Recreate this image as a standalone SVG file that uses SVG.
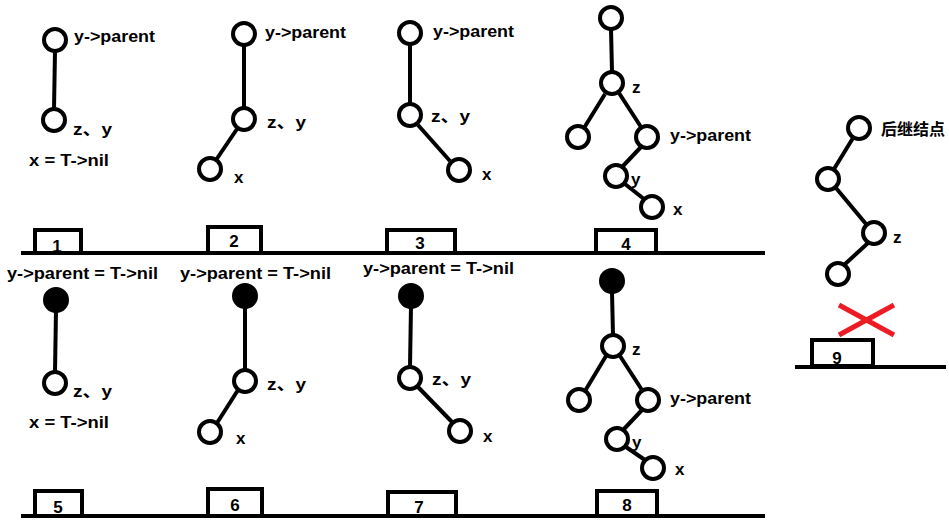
<svg xmlns="http://www.w3.org/2000/svg" width="949" height="529" viewBox="0 0 949 529">
<style>
.n{fill:#fff;stroke:#000;stroke-width:4}
.f{fill:#000;stroke:#000;stroke-width:2}
.e{stroke:#000;stroke-width:4;fill:none}
.b{fill:#fff;stroke:#000;stroke-width:4}
.t{font-family:"Liberation Sans","Noto Sans CJK SC",sans-serif;font-weight:bold;font-size:17px;fill:#000}
.c{font-family:"Noto Sans CJK SC",sans-serif;font-weight:bold;font-size:16px;fill:#000}
.d{font-family:"Liberation Sans",sans-serif;font-weight:bold;font-size:17px;fill:#000;text-anchor:middle}
</style>
<rect width="949" height="529" fill="#fff"/>
<g id="connectors">
<line class="e" x1="55" y1="51" x2="54" y2="109"/>
<line class="e" x1="244" y1="45" x2="244" y2="108"/>
<line class="e" x1="237" y1="129" x2="216" y2="160"/>
<line class="e" x1="410" y1="45" x2="410" y2="104"/>
<line class="e" x1="418" y1="125" x2="450" y2="161"/>
<line class="e" x1="611" y1="29" x2="612" y2="72"/>
<line class="e" x1="605" y1="94" x2="584" y2="128"/>
<line class="e" x1="619" y1="93" x2="641" y2="127"/>
<line class="e" x1="641" y1="147" x2="623" y2="166"/>
<line class="e" x1="625" y1="184" x2="644" y2="199"/>
<line class="e" x1="853" y1="138" x2="834" y2="169"/>
<line class="e" x1="836" y1="188" x2="866" y2="224"/>
<line class="e" x1="868" y1="243" x2="844" y2="265"/>
<line class="e" x1="56" y1="310" x2="55" y2="372"/>
<line class="e" x1="245" y1="306" x2="245" y2="370"/>
<line class="e" x1="238" y1="390" x2="217" y2="423"/>
<line class="e" x1="411" y1="306" x2="410" y2="367"/>
<line class="e" x1="418" y1="387" x2="452" y2="422"/>
<line class="e" x1="612" y1="292" x2="613" y2="335"/>
<line class="e" x1="606" y1="356" x2="585" y2="391"/>
<line class="e" x1="620" y1="356" x2="642" y2="390"/>
<line class="e" x1="642" y1="410" x2="624" y2="429"/>
<line class="e" x1="626" y1="447" x2="645" y2="460"/>
</g>
<g id="n1a"><circle class="n" cx="55" cy="40" r="11"/><text class="t" x="74" y="42" textLength="81" lengthAdjust="spacingAndGlyphs">y-&gt;parent</text></g>
<g id="n1b"><circle class="n" cx="54" cy="120" r="11"/><text class="t" x="73" y="135" textLength="39" lengthAdjust="spacingAndGlyphs">z、y</text><text class="t" x="29" y="166" textLength="80" lengthAdjust="spacingAndGlyphs">x = T-&gt;nil</text></g>
<g id="n2a"><circle class="n" cx="244" cy="34" r="11"/><text class="t" x="265" y="38" textLength="81" lengthAdjust="spacingAndGlyphs">y-&gt;parent</text></g>
<g id="n2b"><circle class="n" cx="244" cy="119" r="11"/><text class="t" x="267" y="128" textLength="39" lengthAdjust="spacingAndGlyphs">z、y</text></g>
<g id="n2c"><circle class="n" cx="210" cy="169" r="11"/><text class="t" x="234" y="183">x</text></g>
<g id="n3a"><circle class="n" cx="410" cy="33" r="11"/><text class="t" x="433" y="37" textLength="81" lengthAdjust="spacingAndGlyphs">y-&gt;parent</text></g>
<g id="n3b"><circle class="n" cx="410" cy="115" r="11"/><text class="t" x="431" y="122" textLength="39" lengthAdjust="spacingAndGlyphs">z、y</text></g>
<g id="n3c"><circle class="n" cx="459" cy="170" r="11"/><text class="t" x="482" y="180">x</text></g>
<g id="n4a"><circle class="n" cx="611" cy="18" r="11"/></g>
<g id="n4z"><circle class="n" cx="612" cy="83" r="11"/><text class="t" x="632" y="93">z</text></g>
<g id="n4l"><circle class="n" cx="578" cy="137" r="11"/></g>
<g id="n4p"><circle class="n" cx="647" cy="137" r="11"/><text class="t" x="670" y="141" textLength="81" lengthAdjust="spacingAndGlyphs">y-&gt;parent</text></g>
<g id="n4y"><circle class="n" cx="616" cy="176" r="11"/><text class="t" x="631" y="185">y</text></g>
<g id="n4x"><circle class="n" cx="652" cy="207" r="11"/><text class="t" x="673" y="215">x</text></g>
<g id="n9a"><circle class="n" cx="859" cy="128" r="11"/><text class="c" x="881" y="135" textLength="64" lengthAdjust="spacingAndGlyphs">后继结点</text></g>
<g id="n9b"><circle class="n" cx="828" cy="179" r="11"/></g>
<g id="n9z"><circle class="n" cx="874" cy="233" r="11"/><text class="t" x="893" y="243">z</text></g>
<g id="n9c"><circle class="n" cx="838" cy="274" r="11"/></g>
<g id="cross"><line x1="839" y1="305" x2="894" y2="335" stroke="#ED1C24" stroke-width="5"/><line x1="839" y1="335" x2="894" y2="305" stroke="#ED1C24" stroke-width="5"/></g>
<g id="n5a"><circle class="f" cx="56" cy="300" r="12"/><text class="t" x="7" y="279" textLength="151" lengthAdjust="spacingAndGlyphs">y-&gt;parent = T-&gt;nil</text></g>
<g id="n5b"><circle class="n" cx="55" cy="383" r="11"/><text class="t" x="73" y="397" textLength="39" lengthAdjust="spacingAndGlyphs">z、y</text><text class="t" x="29" y="428" textLength="80" lengthAdjust="spacingAndGlyphs">x = T-&gt;nil</text></g>
<g id="n6a"><circle class="f" cx="245" cy="296" r="12"/><text class="t" x="180" y="279" textLength="151" lengthAdjust="spacingAndGlyphs">y-&gt;parent = T-&gt;nil</text></g>
<g id="n6b"><circle class="n" cx="245" cy="381" r="11"/><text class="t" x="267" y="390" textLength="39" lengthAdjust="spacingAndGlyphs">z、y</text></g>
<g id="n6c"><circle class="n" cx="210" cy="432" r="11"/><text class="t" x="236" y="444">x</text></g>
<g id="n7a"><circle class="f" cx="411" cy="296" r="12"/><text class="t" x="363" y="274" textLength="151" lengthAdjust="spacingAndGlyphs">y-&gt;parent = T-&gt;nil</text></g>
<g id="n7b"><circle class="n" cx="410" cy="378" r="11"/><text class="t" x="432" y="385" textLength="39" lengthAdjust="spacingAndGlyphs">z、y</text></g>
<g id="n7c"><circle class="n" cx="460" cy="431" r="11"/><text class="t" x="483" y="442">x</text></g>
<g id="n8a"><circle class="f" cx="612" cy="281" r="12"/></g>
<g id="n8z"><circle class="n" cx="613" cy="346" r="11"/><text class="t" x="632" y="355">z</text></g>
<g id="n8l"><circle class="n" cx="579" cy="400" r="11"/></g>
<g id="n8p"><circle class="n" cx="648" cy="400" r="11"/><text class="t" x="670" y="404" textLength="81" lengthAdjust="spacingAndGlyphs">y-&gt;parent</text></g>
<g id="n8y"><circle class="n" cx="617" cy="439" r="11"/><text class="t" x="632" y="448">y</text></g>
<g id="n8x"><circle class="n" cx="653" cy="468" r="11"/><text class="t" x="675" y="475">x</text></g>
<g id="baselines">
<rect class="b" x="35" y="230" width="46" height="23"/>
<rect class="b" x="208" y="227" width="53" height="26"/>
<rect class="b" x="387" y="230" width="68" height="23"/>
<rect class="b" x="596" y="230" width="60" height="23"/>
<rect class="b" x="812" y="340" width="61" height="26"/>
<rect class="b" x="35" y="491" width="47" height="25"/>
<rect class="b" x="208" y="489" width="54" height="27"/>
<rect class="b" x="388" y="492" width="68" height="24"/>
<rect class="b" x="597" y="491" width="60" height="25"/>
<line class="e" x1="21" y1="253" x2="765" y2="253"/>
<line class="e" x1="795" y1="367" x2="946" y2="367"/>
<line class="e" x1="21" y1="516" x2="765" y2="516"/>
</g>
<g id="labels">
<text class="d" x="57" y="252">1</text>
<text class="d" x="234" y="247">2</text>
<text class="d" x="420" y="249">3</text>
<text class="d" x="626" y="250">4</text>
<text class="d" x="837" y="364">9</text>
<text class="d" x="58" y="513">5</text>
<text class="d" x="235" y="511">6</text>
<text class="d" x="419" y="513">7</text>
<text class="d" x="627" y="511">8</text>
</g>
</svg>
